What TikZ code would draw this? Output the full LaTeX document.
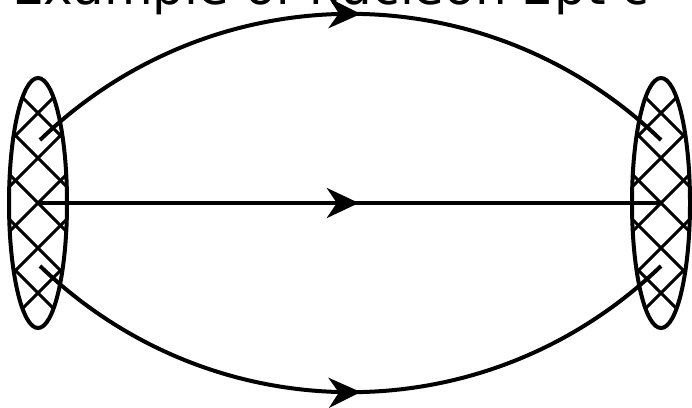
\documentclass[tikz,border=0pt]{standalone}
\usepackage{fontspec}
\setmainfont{DejaVu Sans}
\usetikzlibrary{arrows.meta,positioning,calc,shapes.geometric,decorations.markings}

\tikzset{
  blob/.style={ellipse,draw,line width=4pt,minimum width=58pt,minimum height=250pt,inner sep=0pt,
    path picture={\foreach \k in {-6,...,6}{
      \draw[line width=3pt] ($(path picture bounding box.center)+(\k*45pt,0pt)+(-160pt,-160pt)$) -- ++(320pt,320pt);
      \draw[line width=3pt] ($(path picture bounding box.center)+(\k*45pt,0pt)+(-160pt,160pt)$) -- ++(320pt,-320pt);}}},
  prop/.style={line width=4pt,postaction={decorate},
    decoration={markings,mark=at position .515 with {\arrow{Stealth[length=32pt,width=30pt,inset=10pt]}}}}
}

\begin{document}
\begin{tikzpicture}[x=1pt,y=-1pt]
  \useasboundingbox (0,0) rectangle (692,407);
  \node[anchor=base west,inner sep=0pt,font=\fontsize{50}{56}\selectfont] (title) at (12,4) {Example of nucleon 2pt c};
  \node[blob] (L) at (38,203) {};
  \node[blob] (R) at (661,203) {};
  \coordinate (Lt) at (40,140); \coordinate (Lb) at (40,266);
  \coordinate (Rt) at (661,140); \coordinate (Rb) at (661,266);
  \draw[prop] (Lt) to[bend left=44] (Rt);
  \draw[prop] (L.center) -- (R.center);
  \draw[prop] (Lb) to[bend right=44] (Rb);
\end{tikzpicture}
\end{document}
